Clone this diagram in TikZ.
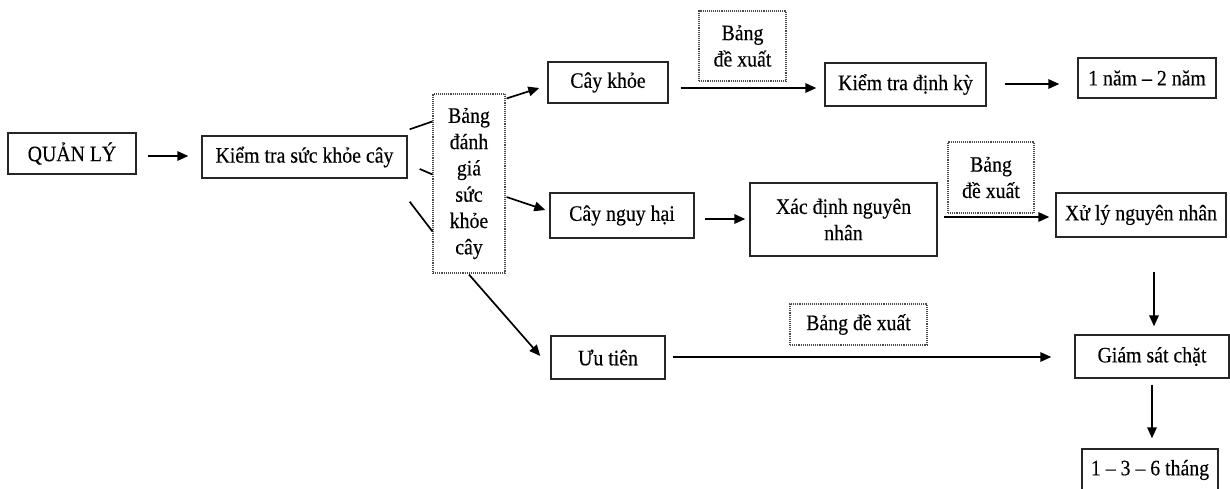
\documentclass[tikz,border=0pt]{standalone}
\usepackage{fontspec}
\setmainfont{Liberation Serif}[FakeStretch=0.9,FakeBold=0.3]
\usetikzlibrary{arrows.meta}
\begin{document}
\begin{tikzpicture}[x=1pt,y=-1pt,
  box/.style={draw=black!85, line width=1.4pt, inner sep=0pt, align=center, font=\fontsize{22}{26.3}\selectfont},
  dbox/.style={draw=black!70, densely dotted, line width=1.1pt, inner sep=0pt, align=center, font=\fontsize{22}{26.3}\selectfont},
  arr/.style={line width=1.7pt, -{Triangle[length=11pt,width=9.5pt]}},
  ln/.style={line width=1.7pt}]
\useasboundingbox (0,0) rectangle (1230,488);
% nodes
\node[box, minimum width=128, minimum height=41] (ql) at (72,153.5) {QUẢN LÝ};
\node[box, minimum width=205, minimum height=42] (kt) at (304.5,157) {Kiểm tra sức khỏe cây};
\node[dbox, minimum width=72, minimum height=179] (bdg) at (469,183.5) {Bảng\\đánh\\giá\\sức\\khỏe\\cây};
\node[box, minimum width=120, minimum height=41] (ck) at (608,82.5) {Cây khỏe};
\node[dbox, minimum width=87, minimum height=70] (bdx1) at (742.5,46) {Bảng\\đề xuất};
\node[box, minimum width=161, minimum height=43] (ktdk) at (905.5,84.5) {Kiểm tra định kỳ};
\node[box, minimum width=138, minimum height=40] (n12) at (1147,78) {1 năm – 2 năm};
\node[box, minimum width=144, minimum height=45] (cnh) at (622,215.5) {Cây nguy hại};
\node[box, minimum width=187, minimum height=73] (xd) at (843.5,219.5) {Xác định nguyên\\nhân};
\node[dbox, minimum width=86, minimum height=71] (bdx2) at (991,177.5) {Bảng\\đề xuất};
\node[box, minimum width=170, minimum height=44] (xl) at (1141,215) {Xử lý nguyên nhân};
\node[box, minimum width=114, minimum height=43] (ut) at (608,357.5) {Ưu tiên};
\node[dbox, minimum width=137, minimum height=41] (bdx3) at (858.5,324.5) {Bảng đề xuất};
\node[box, minimum width=154, minimum height=43] (gs) at (1152,356.5) {Giám sát chặt};
\node[box, minimum width=136, minimum height=42] (t136) at (1150,470) {1 – 3 – 6 tháng};
% connectors
\draw[arr] ([shift={(11,2.5)}]ql.east) -- ([shift={(-13,-1)}]kt.west);
\draw[ln] ([shift={(2,-6)}]kt.north east) -- ([shift={(0,28)}]bdg.north west);
\draw[ln] ([shift={(12,12)}]kt.east) -- ([shift={(0,81)}]bdg.north west);
\draw[ln] ([shift={(2,23)}]kt.south east) -- ([shift={(0,138)}]bdg.north west);
\draw[arr] ([shift={(1,5)}]bdg.north east) -- ([shift={(-8,5.5)}]ck.west);
\draw[arr] ([shift={(1,13.5)}]bdg.east) -- ([shift={(-4,-5.5)}]cnh.west);
\draw[arr] ([shift={(0,1)}]bdg.south) -- ([shift={(-10,-1.5)}]ut.west);
\draw[arr] ([shift={(12,5.5)}]ck.east) -- ([shift={(-8,3.5)}]ktdk.west);
\draw[arr] ([shift={(18,-0.5)}]ktdk.east) -- ([shift={(-18,6)}]n12.west);
\draw[arr] ([shift={(10,3.5)}]cnh.east) -- ([shift={(-4,-0.5)}]xd.west);
\draw[arr] ([shift={(6,-2.5)}]xd.east) -- ([shift={(-6,2)}]xl.west);
\draw[arr] ([shift={(13,34)}]xl.south) -- ([shift={(2,-8)}]gs.north);
\draw[arr] ([shift={(7,-0.5)}]ut.east) -- ([shift={(-23,0.5)}]gs.west);
\draw[arr] ([shift={(0,6)}]gs.south) -- ([shift={(2,-10)}]t136.north);
\end{tikzpicture}
\end{document}
